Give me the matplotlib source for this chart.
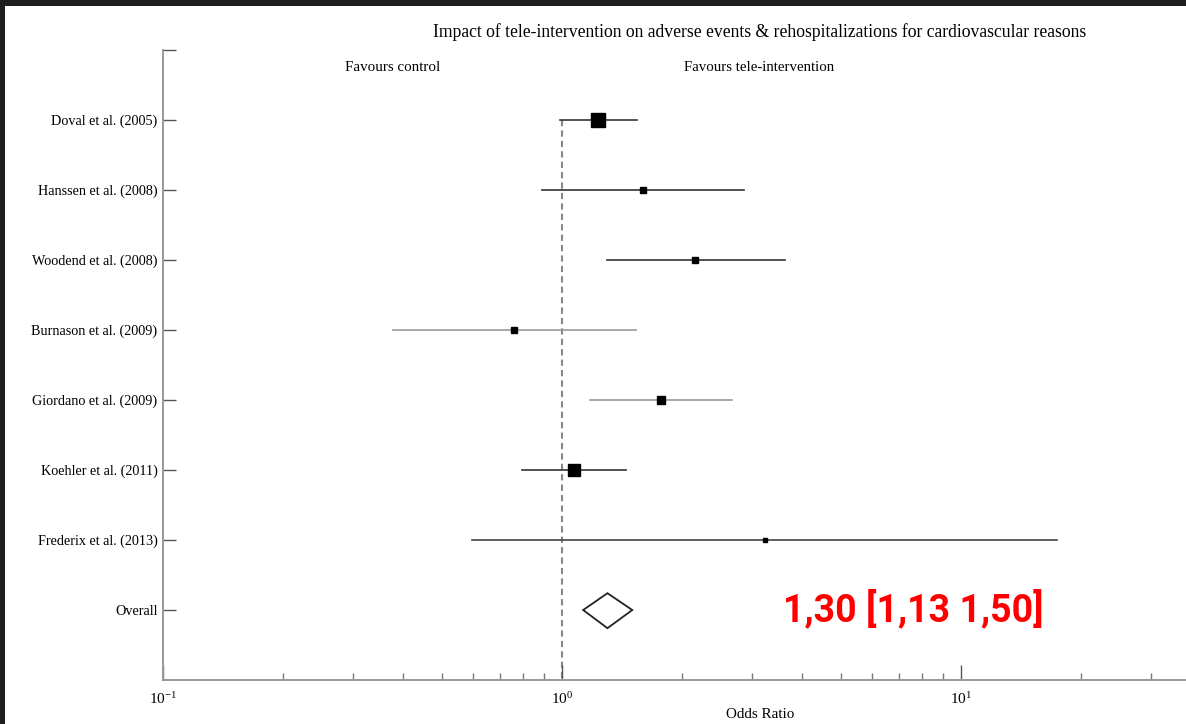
import matplotlib
matplotlib.use("Agg")
import matplotlib.pyplot as plt
from matplotlib.patches import Polygon, Rectangle
from matplotlib.ticker import LogLocator, NullFormatter

studies = ["Doval et al. (2005)", "Hanssen et al. (2008)", "Woodend et al. (2008)",
           "Burnason et al. (2009)", "Giordano et al. (2009)", "Koehler et al. (2011)",
           "Frederix et al. (2013)"]
odds = [1.23, 1.60, 2.15, 0.758, 1.77, 1.07, 3.23]
ci_low = [0.99, 0.89, 1.30, 0.377, 1.175, 0.794, 0.595]
ci_high = [1.54, 2.86, 3.62, 1.53, 2.67, 1.45, 17.4]
marker_sizes = [10, 5, 5, 5, 6, 9, 3]
line_colors = ["#333333", "#333333", "#333333", "#999999", "#999999", "#333333", "#444444"]

overall_label = "Overall"
overall_or = 1.30
overall_lo = 1.13
overall_hi = 1.50
overall_text = "1,30 [1,13 1,50]"

plt.rcParams['font.family'] = ['Liberation Serif', 'DejaVu Serif']
plt.rcParams['mathtext.fontset'] = 'stix'

W, H = 1186, 724
fig = plt.figure(figsize=(W / 100, H / 100), dpi=100)
fig.patch.set_facecolor("white")

# axes spanning x 163..1186 px (cropped on the right), y 50..680 px; one decade = 399 px
left, right, top, bottom = 163, 1186, 50, 680
ax = fig.add_axes([left / W, 1 - bottom / H, (right - left) / W, (bottom - top) / H])
ax.set_xscale("log")
ax.set_xlim(0.1, 10 ** (-1 + (right - left) / 399))
ax.set_ylim(9, 0)

rows = list(range(1, len(studies) + 1))
for y, o, lo, hi, ms, c in zip(rows, odds, ci_low, ci_high, marker_sizes, line_colors):
    ax.plot([lo, hi], [y, y], color=c, lw=1.2, zorder=2)
    ax.plot([o], [y], marker="s", color="black", markersize=ms, zorder=3)

oy = len(studies) + 1
diamond = Polygon([[overall_lo, oy], [overall_or, oy - 0.24], [overall_hi, oy], [overall_or, oy + 0.26]],
                  closed=True, facecolor="white", edgecolor="#222222", lw=1.3, zorder=3)
ax.add_patch(diamond)

ax.plot([1, 1], [1, 9], color="#888888", lw=1.5, ls=(0, (3, 2)), zorder=1)

ax.set_yticks([0] + rows + [oy])
ax.set_yticklabels([""] + studies + [overall_label], fontsize=10.2)
ax.tick_params(axis="y", direction="in", length=9, width=1, color="#555555", pad=4)

ax.xaxis.set_major_locator(LogLocator(base=10, numticks=10))
ax.xaxis.set_minor_locator(LogLocator(base=10, subs=range(2, 10), numticks=20))
ax.xaxis.set_minor_formatter(NullFormatter())
ax.tick_params(axis="x", which="major", direction="in", length=11, width=1, color="#555555", labelsize=11, pad=8)
ax.tick_params(axis="x", which="minor", direction="in", length=5, width=1, color="#777777")

for s in ["top", "right"]:
    ax.spines[s].set_visible(False)
for s in ["left", "bottom"]:
    ax.spines[s].set_color("#999999")
    ax.spines[s].set_linewidth(1.4)

# title and x label centred on the original (uncropped) axes centre, x ~ 760 px
fig.text(760 / W, 1 - 32 / H,
         "Impact of tele-intervention on adverse events & rehospitalizations for cardiovascular reasons",
         fontsize=12.7, ha="center", va="center")
fig.text(760 / W, 1 - 714 / H, "Odds Ratio", fontsize=10.9, ha="center", va="center")

ax.text(0.377, 0.25, "Favours control", fontsize=10.8, ha="center", va="center")
ax.text(3.12, 0.25, "Favours tele-intervention", fontsize=10.7, ha="center", va="center")

fig.text(913 / W, 1 - 610 / H, overall_text, color="#ff0000", fontsize=27, fontweight="bold",
         family="Roboto", ha="center", va="center")

# dark frame strips at top and left
fig.patches.append(Rectangle((0, 1 - 6 / H), 1, 6 / H, transform=fig.transFigure,
                             facecolor="#1e1e1e", edgecolor="none", zorder=10))
fig.patches.append(Rectangle((0, 0), 5 / W, 1, transform=fig.transFigure,
                             facecolor="#1e1e1e", edgecolor="none", zorder=10))

fig.savefig("out.png", dpi=100)
